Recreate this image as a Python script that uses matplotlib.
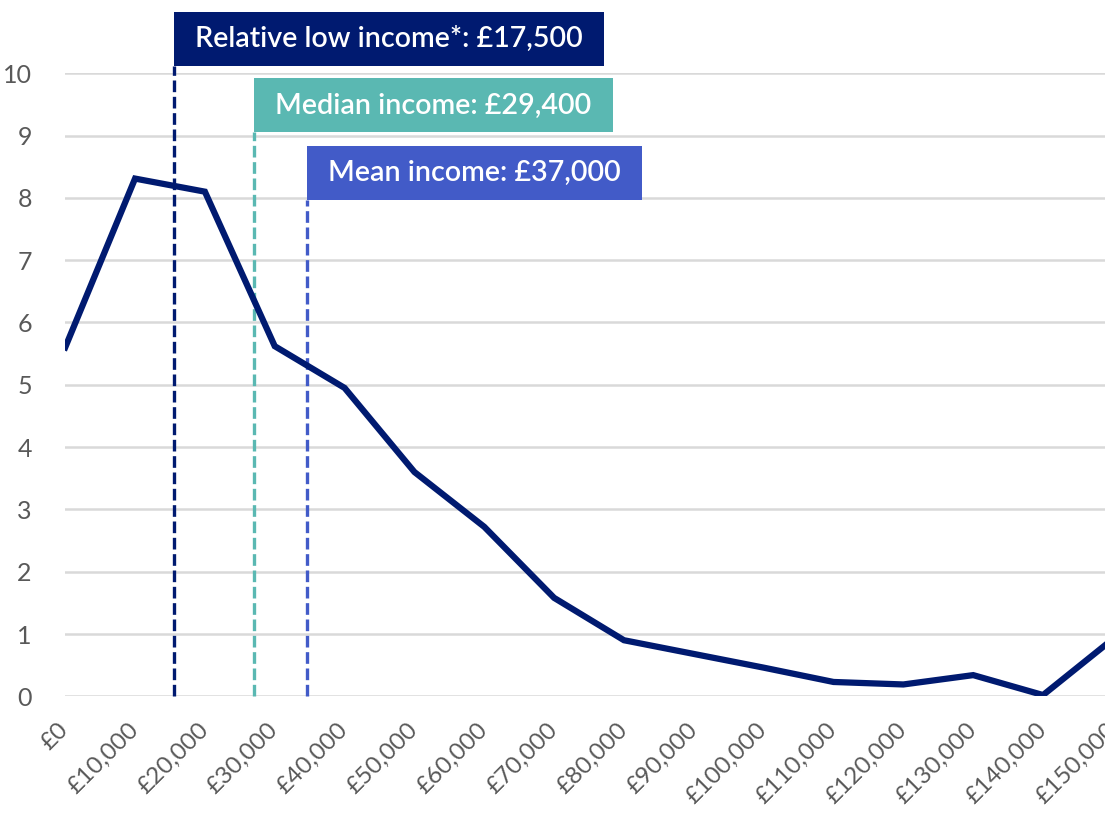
import matplotlib
matplotlib.use("Agg")
import matplotlib.pyplot as plt
from matplotlib.patches import Rectangle
from matplotlib.transforms import offset_copy

# ---- data ----
incomes = [0, 10000, 20000, 30000, 40000, 50000, 60000, 70000, 80000,
           90000, 100000, 110000, 120000, 130000, 140000, 150000]
share = [5.6, 8.31, 8.10, 5.62, 4.95, 3.60, 2.72, 1.58, 0.90,
         0.68, 0.46, 0.23, 0.19, 0.34, 0.02, 0.92]
tick_labels = ["£0", "£10,000", "£20,000", "£30,000", "£40,000", "£50,000",
               "£60,000", "£70,000", "£80,000", "£90,000", "£100,000",
               "£110,000", "£120,000", "£130,000", "£140,000", "£150,000"]
marker_labels = ["Relative low income*: £17,500", "Median income: £29,400",
                 "Mean income: £37,000"]
marker_x = [15600, 27100, 34600]

# ---- styles ----
LINE = "#001a70"
marker_colors = ["#001a70", "#5ab8b2", "#425bc8"]
box_bottoms = [10.12, 9.05, 7.97]
GRID = "#d9d9d9"
TICK = "#595959"
FONT = "Lato"

W, H = 1105, 817
fig = plt.figure(figsize=(W / 100, H / 100), dpi=100)
ax = fig.add_axes([65.2 / W, (H - 696.3) / H, (1112.9 - 65.2) / W, 623.0 / H])

ax.set_xlim(0, 150000)
ax.set_ylim(0, 10)
ax.set_yticks(range(0, 11))
ax.set_xticks(incomes)
ax.set_xticklabels(tick_labels, rotation=45, ha="right", va="center",
                   rotation_mode="anchor", fontsize=17.5, color=TICK,
                   family=FONT)
ax.tick_params(axis="x", length=0, pad=22)
ax.tick_params(axis="y", length=0, pad=24, labelsize=18, labelcolor=TICK)
for lbl in ax.get_yticklabels():
    lbl.set_family(FONT)
for s in ax.spines.values():
    s.set_visible(False)
ax.grid(axis="y", color=GRID, linewidth=1.8)
ax.set_axisbelow(True)

ax.plot(incomes, share, color=LINE, linewidth=4.5, solid_joinstyle="miter",
        zorder=3, clip_on=True)

for x, yb, c in zip(marker_x, box_bottoms, marker_colors):
    ax.plot([x, x], [0, yb], color=c, linewidth=2.4, dashes=(3.5, 1.4),
            clip_on=False, zorder=2)

fig.canvas.draw()
renderer = fig.canvas.get_renderer()
MARGIN = 21
BOX_H = 54
for x, yb, c, label in zip(marker_x, box_bottoms, marker_colors, marker_labels):
    tr = offset_copy(ax.transData, fig=fig, x=MARGIN, y=BOX_H / 2, units="dots")
    t = fig.text(x, yb, label, transform=tr, ha="left", va="center",
                 color="white", fontsize=20.6, fontweight="semibold",
                 family=FONT, zorder=6)
    ext = t.get_window_extent(renderer)
    px, py = ax.transData.transform((x, yb))
    rect = Rectangle((px / W, py / H), (ext.width + 2 * MARGIN) / W, BOX_H / H,
                     transform=fig.transFigure, facecolor=c, edgecolor="none",
                     zorder=5)
    fig.add_artist(rect)

fig.savefig("out.png", dpi=100)
